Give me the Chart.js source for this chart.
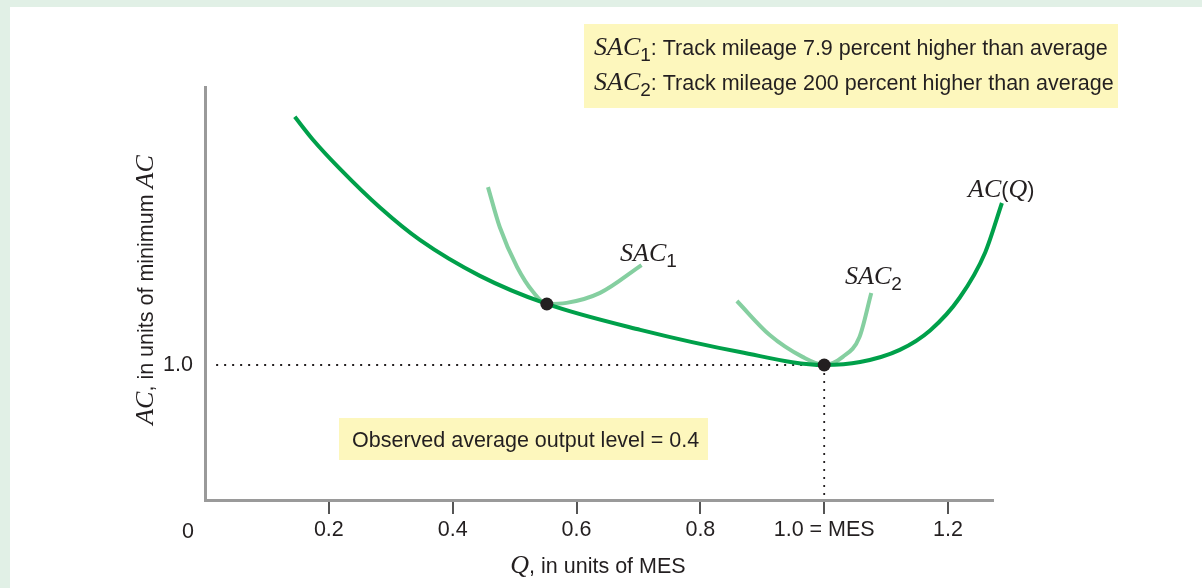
<!DOCTYPE html>
<html><head><meta charset="utf-8">
<script src="https://cdn.jsdelivr.net/npm/chart.js@4/dist/chart.umd.min.js"></script>
<style>html,body{margin:0;padding:0;background:#fff;}</style>
</head><body>
<canvas id="c" width="1202" height="588"></canvas>
<script>
// ---- data ----
const acX  = [0.145,0.174,0.218,0.283,0.347,0.444,0.552,0.703,0.864,1.000,1.058,1.122,1.171,1.219,1.260,1.287];
const acY  = [1.919,1.835,1.726,1.582,1.463,1.330,1.226,1.130,1.048,1.000,1.011,1.056,1.128,1.250,1.417,1.600];
const sac1X = [0.457,0.476,0.504,0.530,0.552,0.584,0.638,0.705];
const sac1Y = [1.659,1.511,1.363,1.270,1.226,1.230,1.267,1.370];
const sac2X = [0.859,0.912,0.965,1.000,1.030,1.057,1.076];
const sac2Y = [1.237,1.111,1.030,1.000,1.030,1.104,1.267];
const tangentX = [0.552,1.000];
const tangentY = [1.226,1.000];
const xTickValues = [0.2,0.4,0.6,0.8,1.0,1.2];
const xTickLabels = ['0.2','0.4','0.6','0.8','1.0 = MES','1.2'];
const yTickValues = [1.0];
const yTickLabels = ['1.0'];
const mesLevel = 1.0;
const observedLevel = 0.4;

const pts = (xs, ys) => xs.map((x,i)=>({x, y: ys[i]}));

const SANS = '"Liberation Sans", Arial, sans-serif';
const SERIF = '"Liberation Serif", "Times New Roman", serif';
const DARK = '#231f20';

function drawRuns(ctx, runs, x, y, align) {
  let w = 0;
  runs.forEach(r => { ctx.font = r.f; w += ctx.measureText(r.t).width; });
  let cx = align === 'center' ? x - w/2 : x;
  ctx.textBaseline = 'alphabetic';
  ctx.textAlign = 'left';
  runs.forEach(r => {
    ctx.font = r.f;
    ctx.fillStyle = DARK;
    ctx.fillText(r.t, cx, y + (r.dy || 0));
    cx += ctx.measureText(r.t).width;
  });
  return w;
}
const it = s => ({t:s, f:'italic 26px ' + SERIF});
const sn = s => ({t:s, f:'21.5px ' + SANS});
const sub = s => ({t:s, f:'19px ' + SANS, dy:6});

const framePlugin = {
  id: 'frame',
  beforeDraw(chart) {
    const ctx = chart.ctx;
    ctx.save();
    ctx.fillStyle = '#ffffff';
    ctx.fillRect(0,0,chart.width,chart.height);
    ctx.fillStyle = '#e1f0e6';
    ctx.fillRect(0,0,chart.width,7);
    ctx.fillRect(0,0,10,chart.height);
    ctx.restore();
  }
};

const textPlugin = {
  id: 'texts',
  afterDraw(chart) {
    const ctx = chart.ctx;
    ctx.save();
    // legend box
    ctx.fillStyle = '#fdf7bd';
    ctx.fillRect(584, 24, 534, 84);
    drawRuns(ctx, [it('SAC'), sub('1'), sn(': Track mileage 7.9 percent higher than average')], 594, 55);
    drawRuns(ctx, [it('SAC'), sub('2'), sn(': Track mileage 200 percent higher than average')], 594, 90);
    // observed box
    ctx.fillStyle = '#fdf7bd';
    ctx.fillRect(339, 418, 369, 42);
    drawRuns(ctx, [sn('Observed average output level = ' + observedLevel.toFixed(1))], 352, 447);
    // curve labels
    drawRuns(ctx, [it('SAC'), sub('1')], 620, 261);
    drawRuns(ctx, [it('SAC'), sub('2')], 845, 284);
    drawRuns(ctx, [it('AC'), {t:'(', f:'21.5px '+SANS}, it('Q'), {t:')', f:'21.5px '+SANS}], 968, 197);
    // origin label
    ctx.font = '21.5px ' + SANS; ctx.fillStyle = DARK; ctx.textAlign='center'; ctx.textBaseline='alphabetic';
    ctx.fillText('0', 188, 538);
    // x title
    drawRuns(ctx, [it('Q'), sn(', in units of MES')], 598, 573, 'center');
    // y title
    ctx.translate(153, 290);
    ctx.rotate(-Math.PI/2);
    drawRuns(ctx, [it('AC'), sn(', in units of minimum '), it('AC')], 0, 0, 'center');
    ctx.restore();
  }
};

new Chart(document.getElementById('c'), {
  type: 'scatter',
  data: {
    datasets: [
      { data: pts(tangentX, tangentY), pointRadius: 6.5, pointBackgroundColor: DARK, pointBorderWidth: 0, showLine: false, clip: false },
      { data: pts(acX, acY), showLine: true, borderColor: '#00a04a', borderWidth: 4, pointRadius: 0, cubicInterpolationMode: 'monotone', clip: false },
      { data: pts(sac1X, sac1Y), showLine: true, borderColor: '#85cfa0', borderWidth: 4, pointRadius: 0, cubicInterpolationMode: 'monotone', clip: false },
      { data: pts(sac2X, sac2Y), showLine: true, borderColor: '#85cfa0', borderWidth: 4, pointRadius: 0, cubicInterpolationMode: 'monotone', clip: false },
      { data: [{x:0.018,y:1.0},{x:mesLevel,y:1.0}], showLine: true, borderColor: DARK, borderWidth: 1.8, borderDash: [2,6], pointRadius: 0, clip: false },
      { data: [{x:mesLevel,y:1.0},{x:mesLevel,y:0.5}], showLine: true, borderColor: DARK, borderWidth: 1.8, borderDash: [2,6], pointRadius: 0, clip: false }
    ]
  },
  options: {
    responsive: false, animation: false, devicePixelRatio: 1,
    events: [],
    layout: { padding: { left: 0, top: 87, right: 209, bottom: 0 } },
    plugins: { legend: { display: false }, tooltip: { enabled: false } },
    scales: {
      x: {
        type: 'linear', min: 0, max: 1.2726,
        afterBuildTicks: s => { s.ticks = xTickValues.map(v => ({ value: v })); },
        afterFit: s => { s.height = 88; },
        ticks: { callback: (v, i) => xTickLabels[i], font: { family: SANS, size: 21.5 }, color: DARK, padding: 3, maxRotation: 0, autoSkip: false },
        grid: { drawOnChartArea: false, drawTicks: true, tickLength: 14, color: '#555555', lineWidth: 2 },
        border: { display: true, color: '#9a9a9a', width: 3 }
      },
      y: {
        type: 'linear', min: 0.5, max: 2.0296,
        afterBuildTicks: s => { s.ticks = yTickValues.map(v => ({ value: v })); },
        afterFit: s => { s.width = 205; },
        ticks: { callback: (v, i) => yTickLabels[i], font: { family: SANS, size: 21.5 }, color: DARK, padding: 12, autoSkip: false },
        grid: { display: false, drawTicks: false },
        border: { display: true, color: '#9a9a9a', width: 3 }
      }
    }
  },
  plugins: [framePlugin, textPlugin]
});
</script>
</body></html>
